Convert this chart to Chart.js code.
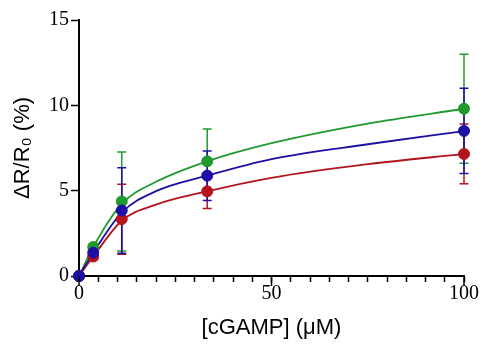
<!DOCTYPE html>
<html>
<head>
<meta charset="utf-8">
<script src="https://cdn.jsdelivr.net/npm/chart.js@4"></script>
<style>
  html, body { margin: 0; padding: 0; background: #fff; }
  #wrap { width: 483px; height: 358px; }
</style>
</head>
<body>
<div id="wrap"><canvas id="myChart" width="483" height="358"></canvas></div>
<script>
// cGAMP concentrations (uM) of the measured points
var conc = [0, 3.7, 11.1, 33.3, 100];

// dR/R0 (%) means and error (+/-) for each series
var greenVals = [0, 1.70, 4.37, 6.72, 9.80];
var greenErr  = [0, 0.20, 2.90, 1.90, 3.20];
var blueVals  = [0, 1.37, 3.84, 5.88, 8.50];
var blueErr   = [0, 0.20, 2.50, 1.45, 2.50];
var redVals   = [0, 1.14, 3.33, 4.96, 7.15];
var redErr    = [0, 0.20, 2.05, 1.00, 1.75];

// fitted curves
var fitConc  = [0, 3.7, 11.1, 20, 33.3, 50, 75, 100];
var greenFit = [0, 1.70, 4.22, 5.52, 6.72, 7.78, 8.93, 9.80];
var blueFit  = [0, 1.37, 3.72, 4.97, 5.88, 6.85, 7.72, 8.49];
var redFit   = [0, 1.14, 3.24, 4.18, 4.96, 5.75, 6.55, 7.15];

var xTicks = [0, 50, 100];
var yTicks = [0, 5, 10, 15];

function toPoints(xs, vals) {
  return xs.map(function (c, i) { return { x: c, y: vals[i] }; });
}

function fitSet(vals, color, order) {
  return {
    data: toPoints(fitConc, vals),
    borderColor: color,
    borderWidth: 1.8,
    pointRadius: 0,
    cubicInterpolationMode: 'monotone',
    clip: false,
    order: order
  };
}

function pointSet(vals, err, color, order) {
  return {
    data: toPoints(conc, vals),
    errors: err,
    showLine: false,
    borderColor: color,
    backgroundColor: color,
    pointBackgroundColor: color,
    pointBorderColor: color,
    pointRadius: 5.5,
    clip: false,
    order: order
  };
}

// error bars drawn under the markers, using the chart scales
var errorBars = {
  id: 'errorBars',
  beforeDatasetsDraw: function (chart) {
    var ctx = chart.ctx;
    var xs = chart.scales.x, ys = chart.scales.y;
    var sets = chart.data.datasets.filter(function (d) { return d.errors; })
      .sort(function (a, b) { return b.order - a.order; });
    sets.forEach(function (ds) {
      ctx.save();
      ctx.strokeStyle = ds.borderColor;
      ctx.lineWidth = 1.5;
      ds.data.forEach(function (p, i) {
        var e = ds.errors[i];
        if (!e) return;
        var px = xs.getPixelForValue(p.x);
        var top = ys.getPixelForValue(p.y + e);
        var bot = ys.getPixelForValue(p.y - e);
        ctx.beginPath();
        ctx.moveTo(px, top); ctx.lineTo(px, bot);
        ctx.moveTo(px - 4.5, top); ctx.lineTo(px + 4.5, top);
        ctx.moveTo(px - 4.5, bot); ctx.lineTo(px + 4.5, bot);
        ctx.stroke();
      });
      ctx.restore();
    });
  },
  // longer ticks at the labelled x values
  afterDraw: function (chart) {
    var ctx = chart.ctx;
    var xs = chart.scales.x;
    ctx.save();
    ctx.strokeStyle = '#000';
    ctx.lineWidth = 1.5;
    xTicks.forEach(function (v) {
      var px = xs.getPixelForValue(v);
      ctx.beginPath();
      ctx.moveTo(px, xs.top);
      ctx.lineTo(px, xs.top + 10);
      ctx.stroke();
    });
    ctx.restore();
  }
};

var tickFont = { family: "'Liberation Serif', 'DejaVu Serif', serif", size: 20 };
var titleFont = { family: "'Liberation Sans', Arial, sans-serif", size: 22 };

var ctx = document.getElementById('myChart').getContext('2d');
var chart = new Chart(ctx, {
  type: 'line',
  data: {
    datasets: [
      fitSet(greenFit, '#1f9a2e', 5),
      fitSet(redFit, '#b3141c', 4),
      fitSet(blueFit, '#1c0fa3', 3),
      pointSet(greenVals, greenErr, '#1f9a2e', 2),
      pointSet(redVals, redErr, '#b3141c', 1),
      pointSet(blueVals, blueErr, '#1c0fa3', 0)
    ]
  },
  options: {
    responsive: false,
    animation: false,
    layout: { padding: { top: 20, right: 19, left: 0, bottom: 0 } },
    plugins: { legend: { display: false }, tooltip: { enabled: false } },
    scales: {
      x: {
        type: 'linear',
        min: 0,
        max: 100,
        afterFit: function (s) { s.height = 82; },
        ticks: {
          stepSize: 5,
          autoSkip: false,
          maxRotation: 0,
          color: '#000',
          font: tickFont,
          padding: 0,
          callback: function (v) { return xTicks.indexOf(v) >= 0 ? String(v) : ''; }
        },
        grid: { drawOnChartArea: false, drawTicks: true, tickLength: 6, tickColor: '#000', tickWidth: 1.5 },
        border: { color: '#000', width: 2 },
        title: { display: true, text: '[cGAMP] (\u03BCM)', color: '#000', font: titleFont, padding: { top: 4, bottom: 17 } }
      },
      y: {
        min: 0,
        max: 15,
        afterFit: function (s) { s.width = 79; },
        afterBuildTicks: function (s) { s.ticks = yTicks.map(function (v) { return { value: v }; }); },
        ticks: { color: '#000', font: tickFont, padding: 2 },
        grid: { drawOnChartArea: false, drawTicks: true, tickLength: 8, tickColor: '#000', tickWidth: 1.5 },
        border: { color: '#000', width: 2 },
        title: { display: true, text: '\u0394R/R\u2080 (%)', color: '#000', font: titleFont, padding: { top: 10, bottom: 0 } }
      }
    }
  },
  plugins: [errorBars]
});
</script>
</body>
</html>
